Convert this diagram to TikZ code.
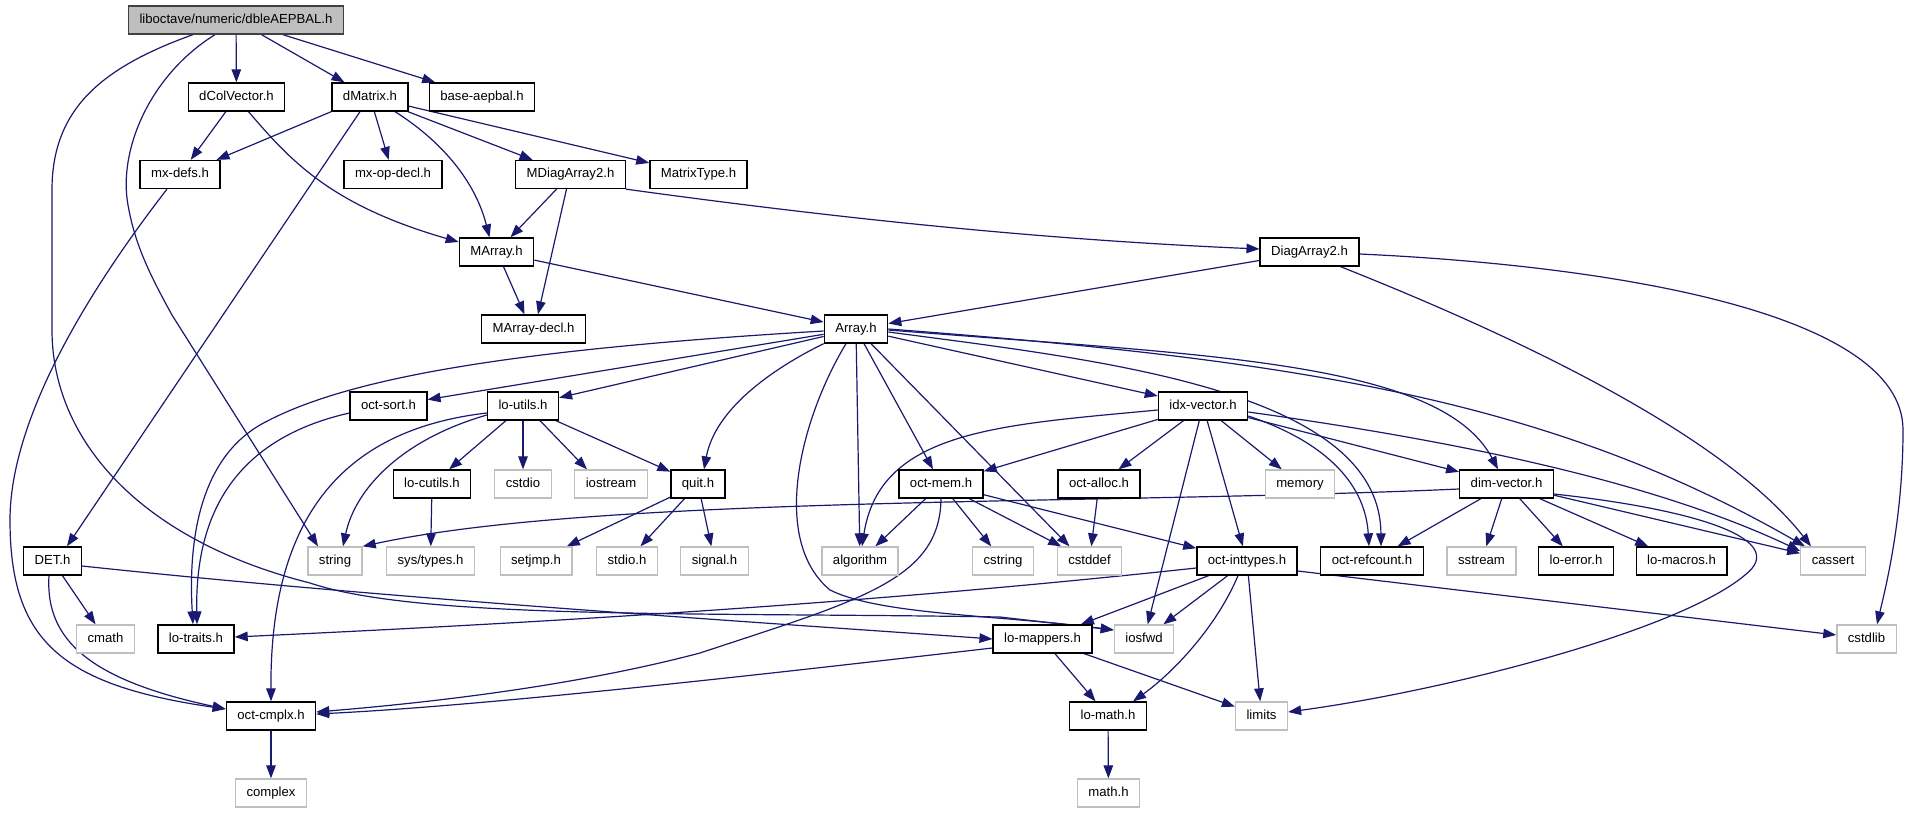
\documentclass[tikz,border=0pt]{standalone}
\usepackage{fontspec}
\setmainfont{Liberation Sans}
\usetikzlibrary{arrows.meta}
\pgfdeclarelayer{bg}
\pgfsetlayers{bg,main}
\definecolor{edgeblue}{RGB}{25,25,112}
\definecolor{greyssf}{RGB}{191,191,191}
\begin{document}
\begin{tikzpicture}[x=1pt,y=-1pt,
  every node/.style={font=\fontsize{13.15}{15}\selectfont, inner xsep=11pt, inner ysep=0pt,
     minimum height=28pt, text height=9.6pt, text depth=2.8pt},
  hbox/.style={draw=black, line width=1.3pt, fill=white},
  sbox/.style={draw=greyssf, line width=1.3pt, fill=white},
  rbox/.style={draw=black!75, line width=1.3pt, fill=greyssf},
  dep/.style={draw=edgeblue, line width=1.2pt, -{Triangle[length=13pt,width=9.5pt]}}]
\useasboundingbox (0,0) rectangle (1908,813);
% row 0
\node[rbox] (root) at (236,20) {liboctave/numeric/dbleAEPBAL.h};
% row 1
\node[hbox] (dColVector) at (236.5,97) {dColVector.h};
\node[hbox] (dMatrix) at (370,97) {dMatrix.h};
\node[hbox] (baseaepbal) at (482,97) {base-aepbal.h};
% row 2
\node[hbox] (mxdefs) at (180,174.5) {mx-defs.h};
\node[hbox] (mxopdecl) at (393,174.5) {mx-op-decl.h};
\node[hbox] (MDiagArray2) at (570.5,174.5) {MDiagArray2.h};
\node[hbox] (MatrixType) at (698.5,174.5) {MatrixType.h};
% row 3
\node[hbox] (MArray) at (496.5,252) {MArray.h};
\node[hbox] (DiagArray2) at (1309.5,252) {DiagArray2.h};
% row 4
\node[hbox] (MArraydecl) at (533.5,329) {MArray-decl.h};
\node[hbox] (Array) at (856,329) {Array.h};
% row 5
\node[hbox] (octsort) at (388.5,406) {oct-sort.h};
\node[hbox] (loutils) at (523,406) {lo-utils.h};
\node[hbox] (idxvector) at (1203,406) {idx-vector.h};
% row 6
\node[hbox] (locutils) at (432,484) {lo-cutils.h};
\node[sbox] (cstdio) at (523,484) {cstdio};
\node[sbox] (iostream) at (611,484) {iostream};
\node[hbox] (quit) at (698,484) {quit.h};
\node[hbox] (octmem) at (941,484) {oct-mem.h};
\node[hbox] (octalloc) at (1099,484) {oct-alloc.h};
\node[sbox] (memory) at (1300,484) {memory};
\node[hbox] (dimvector) at (1506.5,484) {dim-vector.h};
% row 7
\node[hbox] (DET) at (52.5,561) {DET.h};
\node[sbox] (string) at (335,561) {string};
\node[sbox] (systypes) at (430.5,561) {sys/types.h};
\node[sbox] (setjmp) at (536,561) {setjmp.h};
\node[sbox] (stdio) at (627,561) {stdio.h};
\node[sbox] (signal) at (714.5,561) {signal.h};
\node[sbox] (algorithm) at (860,561) {algorithm};
\node[sbox] (cstring) at (1003,561) {cstring};
\node[sbox] (cstddef) at (1089.5,561) {cstddef};
\node[hbox] (octinttypes) at (1247,561) {oct-inttypes.h};
\node[hbox] (octrefcount) at (1372,561) {oct-refcount.h};
\node[sbox] (sstream) at (1481.5,561) {sstream};
\node[hbox] (loerror) at (1576,561) {lo-error.h};
\node[hbox] (lomacros) at (1681.5,561) {lo-macros.h};
\node[sbox] (cassert) at (1833,561) {cassert};
% row 8
\node[sbox] (cmath) at (105.5,639) {cmath};
\node[hbox] (lotraits) at (196,639) {lo-traits.h};
\node[hbox] (lomappers) at (1042.5,639) {lo-mappers.h};
\node[sbox] (iosfwd) at (1144,639) {iosfwd};
\node[sbox] (cstdlib) at (1866.5,639) {cstdlib};
% row 9
\node[hbox] (octcmplx) at (271,716) {oct-cmplx.h};
\node[hbox] (lomath) at (1108,716) {lo-math.h};
\node[sbox] (limits) at (1261.5,716) {limits};
% row 10
\node[sbox] (complex) at (271,793) {complex};
\node[sbox] (mathh) at (1108.5,793) {math.h};

\begin{pgfonlayer}{bg}
% root
\draw[dep] (root) -- (dColVector);
\draw[dep] (root) -- (dMatrix);
\draw[dep] (root) -- (baseaepbal);
\draw[dep] ([xshift=-21pt]root.south) .. controls (150,75) and (118,150) .. (128,205) .. controls (135,245) and (150,275) .. (172,315) -- ([xshift=-17pt]string.north);
\draw[dep] ([xshift=-43pt]root.south) .. controls (100,68) and (52,110) .. (52,190) -- (52,330) .. controls (52,440) and (140,540) .. (310,583) .. controls (420,620) and (700,612) .. (1000,617) -- ([yshift=9pt]iosfwd.west);
% dColVector
\draw[dep] (dColVector) -- (mxdefs);
\draw[dep] ([xshift=12pt]dColVector.south) .. controls (290,160) and (330,205) .. ([yshift=10pt]MArray.west);
% dMatrix
\draw[dep] (dMatrix.south west) -- ([xshift=-4pt]mxdefs.north east);
\draw[dep] (dMatrix) -- (mxopdecl);
\draw[dep] ([xshift=25pt]dMatrix.south) .. controls (440,140) and (475,180) .. ([xshift=-7pt]MArray.north);
\draw[dep] (dMatrix) -- (MDiagArray2);
\draw[dep] (dMatrix) -- (MatrixType);
\draw[dep] ([xshift=-10pt]dMatrix.south) -- ([xshift=14.5pt]DET.north);
% mx-defs
\draw[dep] ([xshift=-13pt]mxdefs.south) .. controls (120,250) and (10,400) .. (10,520) .. controls (10,640) and (60,685) .. ([yshift=7pt]octcmplx.west);
% MDiagArray2
\draw[dep] (MDiagArray2) -- (MArray);
\draw[dep] ([xshift=-4pt]MDiagArray2.south) -- ([xshift=4.5pt]MArraydecl.north);
\draw[dep] (MDiagArray2.south east) .. controls (850,220) and (1050,240) .. ([yshift=3pt]DiagArray2.west);
% MArray
\draw[dep] ([xshift=7pt]MArray.south) -- ([xshift=-9pt]MArraydecl.north);
\draw[dep] (MArray) -- (Array);
% DiagArray2
\draw[dep] (DiagArray2) -- (Array);
\draw[dep] ([xshift=31pt]DiagArray2.south) .. controls (1500,330) and (1720,430) .. ([xshift=-22pt]cassert.north);
\draw[dep] ([yshift=-2pt]DiagArray2.east) .. controls (1600,265) and (1903,310) .. (1903,430) .. controls (1903,520) and (1885,590) .. ([xshift=10.5pt]cstdlib.north);
% Array
\draw[dep] (Array) -- (octsort);
\draw[dep] (Array) -- (loutils);
\draw[dep] ([yshift=-2pt]Array.west) .. controls (500,350) and (340,380) .. (260,425) .. controls (200,460) and (188,540) .. ([xshift=-3pt]lotraits.north);
\draw[dep] (Array.south west) .. controls (770,370) and (715,410) .. ([xshift=6pt]quit.north);
\draw[dep] (Array) -- (algorithm);
\draw[dep] (Array) -- (octmem);
\draw[dep] ([xshift=15pt]Array.south) -- ([xshift=-20pt]cstddef.north);
\draw[dep] ([xshift=-10pt]Array.south) .. controls (800,420) and (770,540) .. (830,590) .. controls (880,615) and (1000,615) .. ([yshift=9pt]iosfwd.west);
\draw[dep] (Array) -- (idxvector);
\draw[dep] ([yshift=-3pt]Array.east) .. controls (1100,360) and (1380,390) .. ([xshift=9pt]octrefcount.north);
\draw[dep] ([yshift=-1pt]Array.east) .. controls (1200,355) and (1440,360) .. ([xshift=-8.5pt]dimvector.north);
\draw[dep] (Array.east) .. controls (1300,360) and (1550,400) .. ([xshift=-28pt]cassert.north);
% lo-utils
\draw[dep] (loutils) -- (locutils);
\draw[dep] (loutils) -- (cstdio);
\draw[dep] ([xshift=17pt]loutils.south) -- ([xshift=-24pt]iostream.north);
\draw[dep] (loutils) -- (quit);
\draw[dep] ([yshift=-9pt]loutils.west) .. controls (400,440) and (355,490) .. ([xshift=8pt]string.north);
\draw[dep] ([yshift=-7pt]loutils.west) .. controls (340,430) and (270,520) .. (octcmplx.north);
% oct-sort
\draw[dep] ([yshift=-7pt]octsort.west) .. controls (230,440) and (195,520) .. ([xshift=1pt]lotraits.north);
% idx-vector
\draw[dep] ([yshift=-4pt]idxvector.west) .. controls (1000,425) and (880,430) .. ([xshift=2pt]algorithm.north);
\draw[dep] (idxvector) -- (octmem);
\draw[dep] (idxvector) -- (octalloc);
\draw[dep] (idxvector) -- (memory);
\draw[dep] (idxvector) -- (octinttypes);
\draw[dep] (idxvector) -- (iosfwd);
\draw[dep] ([yshift=-10pt]idxvector.east) .. controls (1320,440) and (1365,480) .. ([xshift=-3pt]octrefcount.north);
\draw[dep] (idxvector) -- (dimvector);
\draw[dep] ([yshift=-6pt]idxvector.east) .. controls (1450,440) and (1650,480) .. ([yshift=10pt]cassert.west);
% oct-mem
\draw[dep] (octmem) -- (algorithm);
\draw[dep] (octmem) -- (cstring);
\draw[dep] (octmem) -- (cstddef);
\draw[dep] (octmem) -- (octinttypes);
\draw[dep] (octmem.south) .. controls (940,580) and (860,600) .. (700,653) .. controls (560,690) and (400,705) .. ([yshift=4pt]octcmplx.east);
% others
\draw[dep] (octalloc) -- (cstddef);
\draw[dep] (locutils) -- (systypes);
\draw[dep] (quit) -- (setjmp);
\draw[dep] (quit) -- (stdio);
\draw[dep] (quit) -- (signal);
% dim-vector
\draw[dep] ([yshift=-5pt]dimvector.west) .. controls (1100,505) and (600,495) .. (string.north east);
\draw[dep] (dimvector) -- (octrefcount);
\draw[dep] (dimvector) -- (sstream);
\draw[dep] (dimvector) -- (loerror);
\draw[dep] (dimvector) -- (lomacros);
\draw[dep] (dimvector) -- (cassert);
\draw[dep] ([yshift=-10pt]dimvector.east) .. controls (1700,510) and (1790,540) .. (1745,575) .. controls (1680,630) and (1450,690) .. ([yshift=4pt]limits.east);
% oct-inttypes
\draw[dep] ([yshift=-7pt]octinttypes.west) .. controls (900,600) and (600,620) .. ([yshift=2pt]lotraits.east);
\draw[dep] (octinttypes) -- (lomappers);
\draw[dep] (octinttypes) -- (iosfwd);
\draw[dep] ([xshift=-9pt]octinttypes.south) .. controls (1215,630) and (1170,675) .. ([xshift=25pt]lomath.north);
\draw[dep] (octinttypes) -- (limits);
\draw[dep] ([yshift=-10pt]octinttypes.east) -- ([yshift=4pt]cstdlib.west);
% DET
\draw[dep] (DET) -- (cmath);
\draw[dep] ([xshift=-3.5pt]DET.south) .. controls (45,640) and (90,680) .. ([yshift=7pt]octcmplx.west);
\draw[dep] ([yshift=-5pt]DET.east) .. controls (400,600) and (800,625) .. (lomappers.west);
% lo-mappers
\draw[dep] ([yshift=-9pt]lomappers.west) .. controls (800,670) and (500,705) .. ([yshift=2pt]octcmplx.east);
\draw[dep] (lomappers) -- (lomath);
\draw[dep] (lomappers) -- (limits);
\draw[dep] (lomath) -- (mathh);
\draw[dep] (octcmplx) -- (complex);
\end{pgfonlayer}
\end{tikzpicture}
\end{document}
